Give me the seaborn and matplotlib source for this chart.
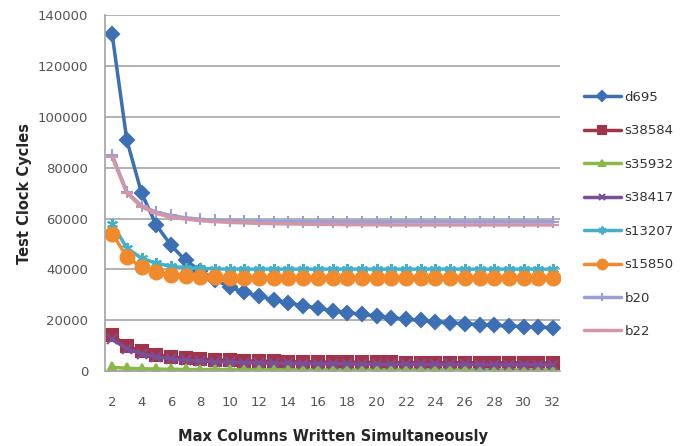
import matplotlib
matplotlib.use("Agg")
import matplotlib.pyplot as plt
import seaborn as sns
import numpy as np

columns = list(range(2, 33))

d695 = [132500, 90800, 70000, 57500, 49500, 43500, 39500, 36000, 33000, 31000,
        29500, 28000, 26800, 25700, 24700, 23800, 23000, 22300, 21600, 21000,
        20400, 19900, 19400, 19000, 18600, 18300, 18000, 17700, 17500, 17300, 17100]
s38584 = [14200, 9800, 7800, 6500, 5600, 5000, 4700, 4400, 4200, 4000,
          3900, 3800, 3700, 3650, 3600, 3550, 3500, 3450, 3400, 3400,
          3350, 3350, 3300, 3300, 3250, 3250, 3200, 3200, 3200, 3150, 3150]
s35932 = [1500, 1100, 900, 800, 700, 650, 600, 600, 550, 550,
          550, 500, 500, 500, 500, 500, 500, 500, 500, 500,
          500, 500, 500, 500, 500, 500, 500, 500, 500, 500, 500]
s38417 = [12500, 8800, 6800, 5600, 4800, 4300, 4000, 3700, 3500, 3300,
          3200, 3100, 3000, 2950, 2900, 2850, 2800, 2750, 2700, 2700,
          2650, 2650, 2600, 2600, 2600, 2550, 2550, 2500, 2500, 2500, 2500]
s13207 = [58000, 48400, 44400, 42400, 41200, 40700, 40400, 40200, 40100, 40100,
          40100, 40100, 40100, 40100, 40100, 40100, 40100, 40100, 40100, 40100,
          40100, 40100, 40100, 40100, 40100, 40100, 40100, 40100, 40100, 40100, 40100]
s15850 = [54000, 45000, 40800, 38800, 37900, 37400, 37100, 36900, 36800, 36700,
          36700, 36600, 36600, 36600, 36600, 36600, 36600, 36600, 36600, 36600,
          36600, 36600, 36600, 36600, 36600, 36600, 36600, 36600, 36600, 36600, 36600]
b20 = [85000, 70500, 65000, 62500, 61200, 60300, 59700, 59300, 59100, 59000,
       58900, 58800, 58800, 58800, 58800, 58800, 58800, 58800, 58800, 58800,
       58800, 58800, 58800, 58800, 58800, 58800, 58800, 58800, 58800, 58800, 58800]
b22 = [84200, 70000, 64600, 62000, 60600, 59800, 59200, 58800, 58500, 58300,
       58100, 58000, 57900, 57800, 57700, 57700, 57600, 57600, 57600, 57500,
       57500, 57500, 57500, 57500, 57500, 57500, 57500, 57500, 57500, 57500, 57500]

series_names = ["d695", "s38584", "s35932", "s38417", "s13207", "s15850", "b20", "b22"]
series_vals = [d695, s38584, s35932, s38417, s13207, s15850, b20, b22]
colors = ["#3d6fb4", "#a23449", "#8cb84a", "#7a4f9a", "#45b1c8", "#f18a2c", "#9aa0d4", "#d495a6"]
markers = ["D", "s", "^", "x", (6, 2, 0), "o", "+", "_"]
msizes = [7, 9, 7, 7, 8, 10, 9, 8]

sns.set_theme(style="white")
plt.rcParams['font.family'] = ['DejaVu Sans']

fig = plt.figure(figsize=(6.85, 4.46), dpi=100)
ax = fig.add_axes([0.153, 0.168, 0.665, 0.798])

for name, vals, c, m, ms in zip(series_names, series_vals, colors, markers, msizes):
    sns.lineplot(x=columns, y=vals, ax=ax, color=c, marker=m, markersize=ms,
                 markeredgecolor=c, markerfacecolor=c, markeredgewidth=1.5,
                 linewidth=2.5, label=name)

ax.set_xlim(1.5, 32.5)
ax.set_ylim(0, 140000)
ax.set_xticks(list(range(2, 33, 2)))
ax.set_yticks(list(range(0, 140001, 20000)))
ax.set_yticklabels([str(v) for v in range(0, 140001, 20000)])
ax.tick_params(axis='both', labelsize=9.5, colors='#7f7f7f', labelcolor='#555555', length=3)
ax.tick_params(axis='x', length=0, pad=18)
ax.tick_params(axis='y', pad=9)
ax.yaxis.grid(True, color='#a6a6a6', linewidth=1.2)
ax.xaxis.grid(False)
for s in ["top", "right"]:
    ax.spines[s].set_visible(False)
ax.spines["left"].set_color('#a6a6a6')
ax.spines["bottom"].set_color('#a6a6a6')

ax.set_xlabel("Max Columns Written Simultaneously", fontsize=10.5, fontweight='heavy', labelpad=14)
ax.set_ylabel("Test Clock Cycles", fontsize=10.5, fontweight='heavy', labelpad=4)

leg = ax.legend(loc='center left', bbox_to_anchor=(1.025, 0.44), frameon=False,
                fontsize=9.5, labelspacing=1.55, handlelength=2.8, handletextpad=0.3,
                markerscale=0.7)
for t in leg.get_texts():
    t.set_color('#333333')

fig.savefig("out.png", dpi=100)
